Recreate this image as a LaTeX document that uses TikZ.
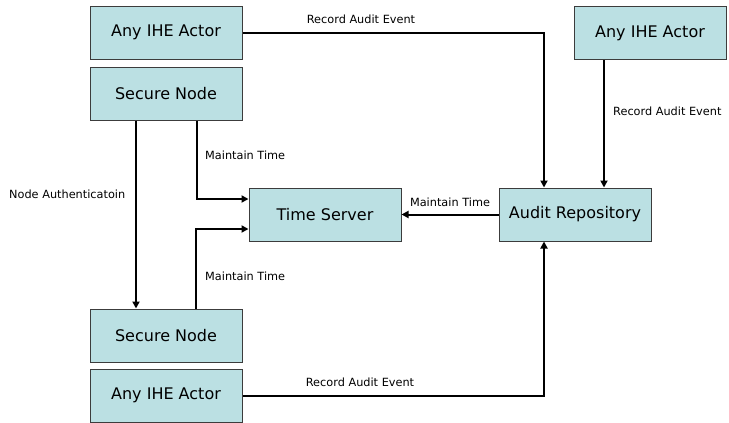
\documentclass[tikz,border=0pt]{standalone}
\usepackage{fontspec}
\setmainfont{DejaVu Sans}
\usetikzlibrary{arrows.meta,calc}
\definecolor{boxfill}{RGB}{187,224,227}
\definecolor{boxline}{RGB}{60,60,60}
\tikzset{
  actor/.style={draw=boxline,fill=boxfill,line width=1pt,rectangle,minimum width=152pt,minimum height=53pt,inner sep=0pt,font=\fontsize{16}{19}\selectfont},
  conn/.style={line width=2pt,draw=black},
  arr/.style={conn,-{Triangle[length=7pt,width=7pt]}},
  lbl/.style={font=\fontsize{11.3}{13}\selectfont,inner sep=0pt}
}
\begin{document}
\begin{tikzpicture}[x=1pt,y=-1pt]
\useasboundingbox (0,0) rectangle (729,423);
\node[actor] (a1) at (166,32.5) {Any IHE Actor};
\node[actor] (sn1) at (166,93.5) {Secure Node};
\node[actor] (sn2) at (166,335.5) {Secure Node};
\node[actor] (a3) at (166,395.5) {Any IHE Actor};
\node[actor] (ts) at (325,214.5) {Time Server};
\node[actor] (ar) at (575,214.5) {Audit Repository};
\node[actor] (a2) at (650,33) {Any IHE Actor};
\coordinate (arL) at ($(ar.north)+(-31,0)$);
\coordinate (arR) at ($(ar.north)+(29,0)$);
\coordinate (arB) at ($(ar.south)+(-31,0)$);
\coordinate (snL) at ($(sn1.south)+(-30,0)$);
\coordinate (snR) at ($(sn1.south)+(31,0)$);
\coordinate (sn2R) at ($(sn2.north)+(30,0)$);
\coordinate (tsA) at ($(ts.west)+(0,-15.5)$);
\coordinate (tsB) at ($(ts.west)+(0,14.5)$);
% record audit events
\draw[arr] (a1.east) -| (arL);
\draw[arr] (arR |- a2.south) -- (arR);
\draw[arr] (a3.east) -| (arB);
% node authentication
\draw[arr] (snL) -- (snL |- sn2.north);
% maintain time
\draw[arr] (snR) |- (tsA);
\draw[arr] (sn2R) |- (tsB);
\draw[arr] (ar.west) -- (ts.east);
% labels
\node[lbl] (l1) at (361,19) {Record Audit Event};
\node[lbl,anchor=west] (l2) at (613,111) {Record Audit Event};
\node[lbl] (l3) at (360,382) {Record Audit Event};
\node[lbl,anchor=west] (l4) at (205,155) {Maintain Time};
\node[lbl,anchor=west] (l5) at (205,276) {Maintain Time};
\node[lbl] (l6) at (450,202) {Maintain Time};
\node[lbl,anchor=west] (l7) at (9,194) {Node Authenticatoin};
\end{tikzpicture}
\end{document}
